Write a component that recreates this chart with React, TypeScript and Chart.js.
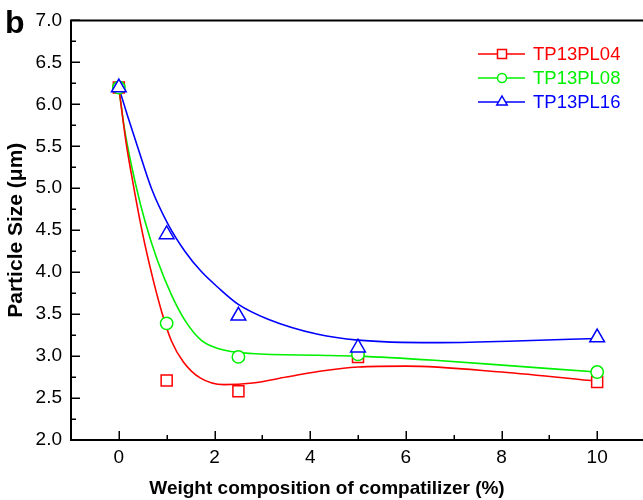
import React, { useEffect, useRef } from 'react';
import { Chart, registerables } from 'chart.js';

Chart.register(...registerables);

const FONT = '"Liberation Sans", Arial, Helvetica, sans-serif';

// Measured data (weight % of compatilizer vs particle size in µm)
const compositions = [0, 1, 2.5, 5, 10];
const sizePL04 = [6.2, 2.71, 2.58, 2.99, 2.69];
const sizePL08 = [6.2, 3.39, 2.99, 3.02, 2.81];
const sizePL16 = [6.2, 4.45, 3.48, 3.1, 3.22];

// Fitted curves
const fitX04 = [0, 0.15, 0.3, 0.5, 0.7, 0.9, 1.1, 1.35, 1.7, 2.2, 2.8, 3.5, 4.2, 5.0, 6.0, 8.0, 10];
const fitY04 = [6.2, 5.55, 5.05, 4.45, 3.95, 3.52, 3.18, 2.93, 2.74, 2.66, 2.68, 2.75, 2.82, 2.87, 2.88, 2.81, 2.7];
const fitX08 = [0, 0.12, 0.35, 0.55, 0.8, 1.1, 1.4, 1.72, 2.07, 2.77, 4.16, 5.0, 6.6, 8.3, 10];
const fitY08 = [6.2, 5.7, 5.05, 4.6, 4.15, 3.73, 3.41, 3.19, 3.09, 3.03, 3.01, 3.0, 2.95, 2.88, 2.81];
const fitX16 = [0, 0.19, 0.4, 0.68, 1.03, 1.38, 1.72, 2.07, 2.49, 3.12, 4.16, 5.0, 6.6, 8.3, 10];
const fitY16 = [6.2, 5.85, 5.48, 5.0, 4.57, 4.25, 4.01, 3.82, 3.62, 3.44, 3.26, 3.19, 3.16, 3.18, 3.21];

const seriesNames = ['TP13PL04', 'TP13PL08', 'TP13PL16'];
const seriesColors = ['#ff0000', '#00f000', '#0000ff'];
const seriesMarkers = ['rect', 'circle', 'triangle'];

const xMin = -1;
const xMax = 11;
const yMin = 2;
const yMax = 7;
const xTickLabels = [0, 2, 4, 6, 8, 10];
const xTitle = 'Weight composition of compatilizer (%)';
const yTitle = 'Particle Size (\u03bcm)';
const panelLabel = 'b';

const toPts = (xs: number[], ys: number[]) => xs.map((x, i) => ({ x, y: ys[i] }));

function drawMarker(ctx: CanvasRenderingContext2D, style: string, x: number, y: number, r: number) {
  ctx.beginPath();
  if (style === 'rect') {
    ctx.rect(x - r, y - r, 2 * r, 2 * r);
  } else if (style === 'circle') {
    ctx.arc(x, y, r, 0, Math.PI * 2);
  } else {
    ctx.moveTo(x, y - r);
    ctx.lineTo(x + r * 0.866, y + r * 0.5);
    ctx.lineTo(x - r * 0.866, y + r * 0.5);
    ctx.closePath();
  }
  ctx.fillStyle = '#fff';
  ctx.fill();
  ctx.stroke();
}

const decorPlugin = {
  id: 'decor',
  afterDraw(chart: any) {
    const { ctx, chartArea: a, scales } = chart;
    const xs = scales.x;
    const ys = scales.y;
    ctx.save();
    ctx.strokeStyle = '#000';
    ctx.lineWidth = 2;
    ctx.beginPath();
    ctx.moveTo(a.left, a.top);
    ctx.lineTo(a.right, a.top);
    ctx.lineTo(a.right, a.bottom);
    ctx.lineTo(a.left, a.bottom);
    ctx.closePath();
    ctx.stroke();

    ctx.lineWidth = 1.5;
    xs.ticks.forEach((t: any) => {
      const px = Math.round(xs.getPixelForValue(t.value)) + 0.25;
      const major = Math.abs(t.value % 2) < 1e-6;
      const len = major ? 9 : 5;
      ctx.beginPath();
      ctx.moveTo(px, a.bottom);
      ctx.lineTo(px, a.bottom - len);
      ctx.stroke();
    });
    ys.ticks.forEach((t: any) => {
      const py = Math.round(ys.getPixelForValue(t.value)) + 0.25;
      const major = Math.abs(t.value * 2 - Math.round(t.value * 2)) < 1e-6;
      const len = major ? 9 : 5;
      ctx.beginPath();
      ctx.moveTo(a.left, py);
      ctx.lineTo(a.left + len, py);
      ctx.stroke();
    });

    // axis titles
    ctx.fillStyle = '#000';
    ctx.font = `bold 19px ${FONT}`;
    ctx.textAlign = 'center';
    ctx.textBaseline = 'alphabetic';
    ctx.fillText(xTitle, 327, 494);
    ctx.save();
    ctx.font = `bold 21px ${FONT}`;
    ctx.translate(22, (a.top + a.bottom) / 2);
    ctx.rotate(-Math.PI / 2);
    ctx.fillText(yTitle, 0, 0);
    ctx.restore();

    // panel label
    ctx.font = `bold 32px ${FONT}`;
    ctx.textAlign = 'left';
    ctx.fillText(panelLabel, 5, 33);

    // legend
    const rows = [54, 78, 102];
    ctx.font = `18.5px ${FONT}`;
    ctx.textBaseline = 'middle';
    seriesNames.forEach((name, i) => {
      const y = rows[i];
      ctx.strokeStyle = seriesColors[i];
      ctx.lineWidth = 1.5;
      ctx.beginPath();
      ctx.moveTo(478, y);
      ctx.lineTo(525, y);
      ctx.stroke();
      drawMarker(ctx, seriesMarkers[i], 502, y, seriesMarkers[i] === 'triangle' ? 6 : 4.5);
      ctx.fillStyle = seriesColors[i];
      ctx.fillText(name, 533, y + 1);
    });
    ctx.restore();
  },
};

export default function App() {
  const ref = useRef<HTMLCanvasElement | null>(null);

  useEffect(() => {
    if (!ref.current) return;
    const markerSets = [
      { data: toPts(compositions, sizePL16), color: seriesColors[2], style: 'triangle', r: 8.5 },
      { data: toPts(compositions, sizePL08), color: seriesColors[1], style: 'circle', r: 6.2 },
      { data: toPts(compositions, sizePL04), color: seriesColors[0], style: 'rect', r: 7.8 },
    ];
    const curveSets = [
      { data: toPts(fitX04, fitY04), color: seriesColors[0] },
      { data: toPts(fitX08, fitY08), color: seriesColors[1] },
      { data: toPts(fitX16, fitY16), color: seriesColors[2] },
    ];
    const chart = new Chart(ref.current, {
      type: 'scatter',
      data: {
        datasets: [
          ...markerSets.map((m) => ({
            data: m.data,
            showLine: false,
            pointStyle: m.style as any,
            pointRadius: m.r,
            pointBorderWidth: 1.5,
            pointBorderColor: m.color,
            pointBackgroundColor: '#ffffff',
            borderColor: m.color,
            backgroundColor: '#ffffff',
          })),
          ...curveSets.map((c) => ({
            data: c.data,
            showLine: true,
            pointRadius: 0,
            borderWidth: 1.6,
            borderColor: c.color,
            backgroundColor: c.color,
            cubicInterpolationMode: 'monotone' as const,
          })),
        ],
      },
      options: {
        animation: false,
        responsive: false,
        devicePixelRatio: 1,
        layout: { padding: { left: 0, right: 0, top: 18, bottom: 0 } },
        plugins: { legend: { display: false }, tooltip: { enabled: false } },
        scales: {
          x: {
            type: 'linear',
            min: xMin,
            max: xMax,
            grid: { display: false, drawTicks: false },
            border: { display: false },
            ticks: {
              stepSize: 1,
              autoSkip: false,
              maxRotation: 0,
              padding: 6,
              color: '#000',
              font: { family: FONT, size: 19 },
              callback: (v: any) => (xTickLabels.includes(Number(v)) ? String(v) : ''),
            },
            afterFit: (s: any) => {
              s.height = 60;
            },
          },
          y: {
            type: 'linear',
            min: yMin,
            max: yMax,
            grid: { display: false, drawTicks: false },
            border: { display: false },
            ticks: {
              stepSize: 0.25,
              autoSkip: false,
              padding: 9,
              color: '#000',
              font: { family: FONT, size: 19 },
              callback: (v: any) => {
                const n = Number(v);
                return Math.abs(n * 2 - Math.round(n * 2)) < 1e-6 ? n.toFixed(1) : '';
              },
            },
            afterFit: (s: any) => {
              s.width = 71;
            },
          },
        },
      },
      plugins: [decorPlugin],
    });
    return () => chart.destroy();
  }, []);

  return (
    <div style={{ position: 'fixed', left: 0, top: 0, width: 643, height: 500, overflow: 'hidden', background: '#fff' }}>
      <canvas ref={ref} width={655} height={500} style={{ width: 655, height: 500, display: 'block' }} />
    </div>
  );
}
